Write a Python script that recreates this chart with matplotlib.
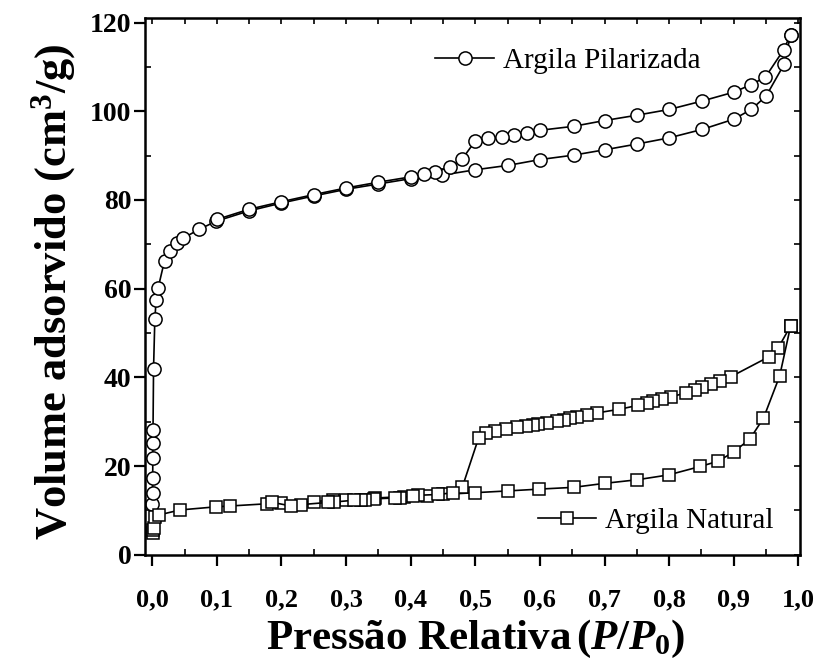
import matplotlib
matplotlib.use("Agg")
import matplotlib.pyplot as plt
from matplotlib.ticker import MultipleLocator

plt.rcParams['font.family'] = ['Liberation Serif', 'DejaVu Serif']
plt.rcParams['mathtext.fontset'] = 'custom'
plt.rcParams['mathtext.rm'] = 'Liberation Serif:bold'
plt.rcParams['mathtext.it'] = 'Liberation Serif:italic:bold'
plt.rcParams['mathtext.bf'] = 'Liberation Serif:bold'

# Argila Pilarizada (circles)
pil_ads_x = [0.0003, 0.0005, 0.0007, 0.0009, 0.0010, 0.0012, 0.002, 0.004, 0.006, 0.009,
             0.019, 0.028, 0.039, 0.048, 0.073, 0.099, 0.149, 0.20, 0.25, 0.30, 0.35, 0.40,
             0.449, 0.50, 0.551, 0.60, 0.652, 0.70, 0.75, 0.80, 0.851, 0.90, 0.927, 0.95,
             0.978, 0.988]
pil_ads_y = [11.5, 14.0, 17.3, 21.8, 25.2, 28.2, 41.9, 53.1, 57.4, 60.1,
             66.3, 68.4, 70.3, 71.4, 73.4, 75.2, 77.5, 79.3, 80.9, 82.4, 83.6, 84.8,
             85.6, 86.8, 87.8, 89.1, 90.1, 91.3, 92.6, 94.0, 95.9, 98.2, 100.4, 103.4,
             110.6, 117.3]
pil_des_x = [0.988, 0.977, 0.949, 0.927, 0.90, 0.851, 0.80, 0.75, 0.70, 0.652, 0.60, 0.58,
             0.56, 0.542, 0.52, 0.50, 0.48, 0.461, 0.438, 0.421, 0.40, 0.35, 0.30, 0.25,
             0.20, 0.15, 0.10]
pil_des_y = [117.3, 113.8, 107.7, 106.0, 104.3, 102.3, 100.4, 99.1, 97.9, 96.6, 95.7, 95.0,
             94.6, 94.2, 93.9, 93.3, 89.3, 87.4, 86.3, 85.8, 85.2, 84.0, 82.7, 81.2,
             79.6, 77.9, 75.6]

# Argila Natural (squares)
nat_ads_x = [0.0005, 0.001, 0.002, 0.004, 0.011, 0.043, 0.098, 0.121, 0.178, 0.20, 0.25,
             0.28, 0.30, 0.345, 0.389, 0.425, 0.45, 0.50, 0.551, 0.599, 0.652, 0.70, 0.75,
             0.799, 0.848, 0.876, 0.90, 0.925, 0.946, 0.971, 0.988]
nat_ads_y = [5.0, 5.5, 6.0, 8.6, 9.0, 10.1, 10.8, 11.0, 11.5, 11.6, 12.0,
             12.3, 12.4, 12.8, 13.1, 13.3, 13.6, 14.0, 14.4, 14.8, 15.2, 16.1, 16.9,
             18.0, 19.9, 21.1, 23.2, 26.1, 30.8, 40.3, 51.6]
nat_des_x = [0.988, 0.969, 0.954, 0.895, 0.878, 0.865, 0.851, 0.84, 0.826, 0.803, 0.789,
             0.775, 0.766, 0.752, 0.723, 0.689, 0.673, 0.657, 0.646, 0.637, 0.627, 0.611,
             0.597, 0.59, 0.579, 0.565, 0.548, 0.531, 0.516, 0.505, 0.48, 0.466, 0.443,
             0.411, 0.403, 0.383, 0.375, 0.343, 0.330, 0.323, 0.313, 0.282, 0.272, 0.230,
             0.215, 0.186]
nat_des_y = [51.6, 46.7, 44.6, 40.1, 39.2, 38.5, 37.8, 37.2, 36.5, 35.6, 35.1,
             34.6, 34.2, 33.7, 32.8, 32.0, 31.5, 31.0, 30.8, 30.4, 30.2, 29.8,
             29.5, 29.2, 29.0, 28.7, 28.3, 27.9, 27.4, 26.3, 15.3, 14.0, 13.6,
             13.4, 13.2, 12.9, 12.8, 12.6, 12.4, 12.3, 12.3, 11.9, 11.8, 11.3,
             11.0, 11.8]

x_ticks = [0.0, 0.1, 0.2, 0.3, 0.4, 0.5, 0.6, 0.7, 0.8, 0.9, 1.0]
x_tick_labels = ["0,0", "0,1", "0,2", "0,3", "0,4", "0,5", "0,6", "0,7", "0,8", "0,9", "1,0"]
y_ticks = [0, 20, 40, 60, 80, 100, 120]

fig = plt.figure(figsize=(8.2, 6.7), dpi=100)
ax = fig.add_axes([0.177, 0.172, 0.799, 0.801])

circ = dict(color='black', lw=1.2, marker='o', ms=9.5, mfc='white', mec='black', mew=1.1)
sq = dict(color='black', lw=1.2, marker='s', ms=8, mfc='white', mec='black', mew=1.1)

l1, = ax.plot(pil_ads_x, pil_ads_y, **circ)
ax.plot(pil_des_x, pil_des_y, **circ)
l2, = ax.plot(nat_ads_x, nat_ads_y, **sq)
ax.plot(nat_des_x, nat_des_y, **sq)

ax.set_xlim(-0.011, 1.003)
ax.set_ylim(0, 121)
ax.set_xticks(x_ticks)
ax.set_xticklabels(x_tick_labels)
ax.set_yticks(y_ticks)
ax.xaxis.set_minor_locator(MultipleLocator(0.05))
ax.yaxis.set_minor_locator(MultipleLocator(10))
ax.tick_params(which='major', direction='out', length=8, width=1.6)
ax.tick_params(axis='x', which='major', pad=16, labelsize=19)
ax.tick_params(axis='y', which='major', pad=2, labelsize=20)
ax.tick_params(which='minor', direction='in', length=4, width=1.2)
for lab in ax.get_xticklabels() + ax.get_yticklabels():
    lab.set_fontweight('bold')
for s in ax.spines.values():
    s.set_linewidth(1.8)

top = ax.secondary_xaxis('top')
top.xaxis.set_major_locator(MultipleLocator(0.05))
top.tick_params(direction='in', length=4, width=1.2, labeltop=False)
right = ax.secondary_yaxis('right')
right.yaxis.set_major_locator(MultipleLocator(10))
right.tick_params(direction='in', length=4, width=1.2, labelright=False)

ax.set_xlabel(r"Pressão Relativa$\,(P/P_{\mathit{0}})$", fontsize=31, fontweight='bold')
ax.xaxis.set_label_coords(0.505, -0.118)
ax.set_ylabel(r"Volume adsorvido (cm$^{\mathbf{3}}$/g)", fontsize=32, fontweight='bold')
ax.yaxis.set_label_coords(-0.102, 0.49)

leg1 = ax.legend([l1], ["Argila Pilarizada"], loc='upper left', bbox_to_anchor=(0.403, 0.994),
                 frameon=False, fontsize=21, handlelength=2.0, handletextpad=0.3)
ax.add_artist(leg1)
ax.legend([l2], ["Argila Natural"], loc='lower left', bbox_to_anchor=(0.559, -0.011),
          frameon=False, fontsize=21, handlelength=2.0, handletextpad=0.3)

fig.savefig("out.png", dpi=100)
